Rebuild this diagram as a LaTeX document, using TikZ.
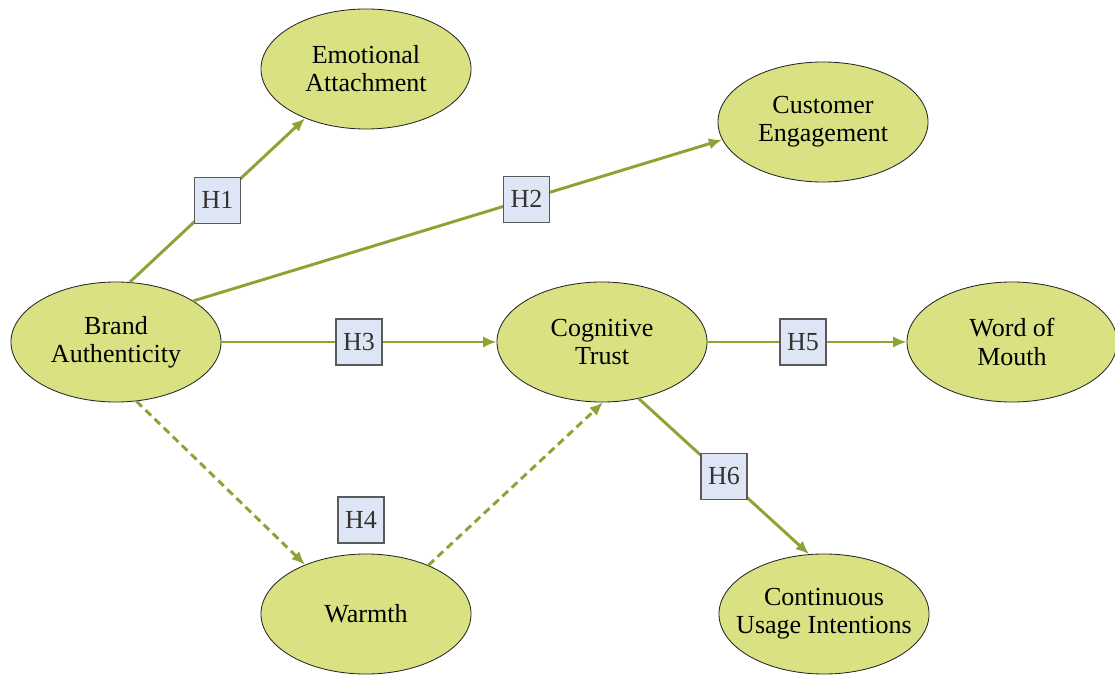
\documentclass[tikz,border=0pt]{standalone}
\usepackage{fontspec}
\setmainfont{Liberation Serif}
\usetikzlibrary{shapes.geometric,arrows.meta}
\definecolor{factorfill}{RGB}{217,225,130}
\definecolor{linkgreen}{RGB}{143,163,52}
\definecolor{hypfill}{RGB}{222,230,245}
\definecolor{hypline}{RGB}{90,90,90}
\begin{document}
\begin{tikzpicture}[x=0.025cm,y=-0.025cm,
  factor/.style={ellipse,draw=black!85,line width=0.6pt,fill=factorfill,
    minimum width=5.25cm,minimum height=3cm,inner xsep=-0.8cm,inner ysep=0pt,
    align=center,font=\fontsize{18.5}{20}\selectfont},
  hyp/.style={rectangle,draw=hypline,line width=0.8pt,fill=hypfill,
    minimum size=1.15cm,inner sep=0pt,text=black!80,
    font=\fontsize{18.5}{20}\selectfont},
  link/.style={draw=linkgreen,line width=2.1pt,-{Latex[length=9.5pt,width=8pt]}},
  dashlink/.style={link,dash pattern=on 5.5pt off 3.5pt}]
\useasboundingbox (0,0) rectangle (1115,675);

\node[factor] (emo) at (366,69) {Emotional\\Attachment};
\node[factor] (eng) at (823,122) {Customer\\Engagement};
\node[factor] (brand) at (116,342) {Brand\\Authenticity};
\node[factor] (trust) at (602,342) {Cognitive\\Trust};
\node[factor] (wom) at (1012,342) {Word of\\Mouth};
\node[factor] (warm) at (366,614) {Warmth};
\node[factor] (usage) at (824,614) {Continuous\\Usage Intentions};

\draw[link] (brand.77) -- node[hyp] (h1) {H1} (emo.219);
\draw[link] (brand.28.6) -- node[hyp,pos=0.63] (h2) {H2} (eng.190.7);
\draw[link] (brand.east) -- node[hyp] (h3) {H3} (trust.west);
\draw[dashlink] (brand.289.6) -- (warm.141.6);
\draw[dashlink] (warm.38.3) -- (trust.271);
\node[hyp] (h4) at (361,520) {H4};
\draw[link] (trust.east) -- node[hyp,pos=0.48] (h5) {H5} (wom.west);
\draw[link] (trust.303) -- node[hyp] (h6) {H6} (usage.104.5);
\end{tikzpicture}
\end{document}
